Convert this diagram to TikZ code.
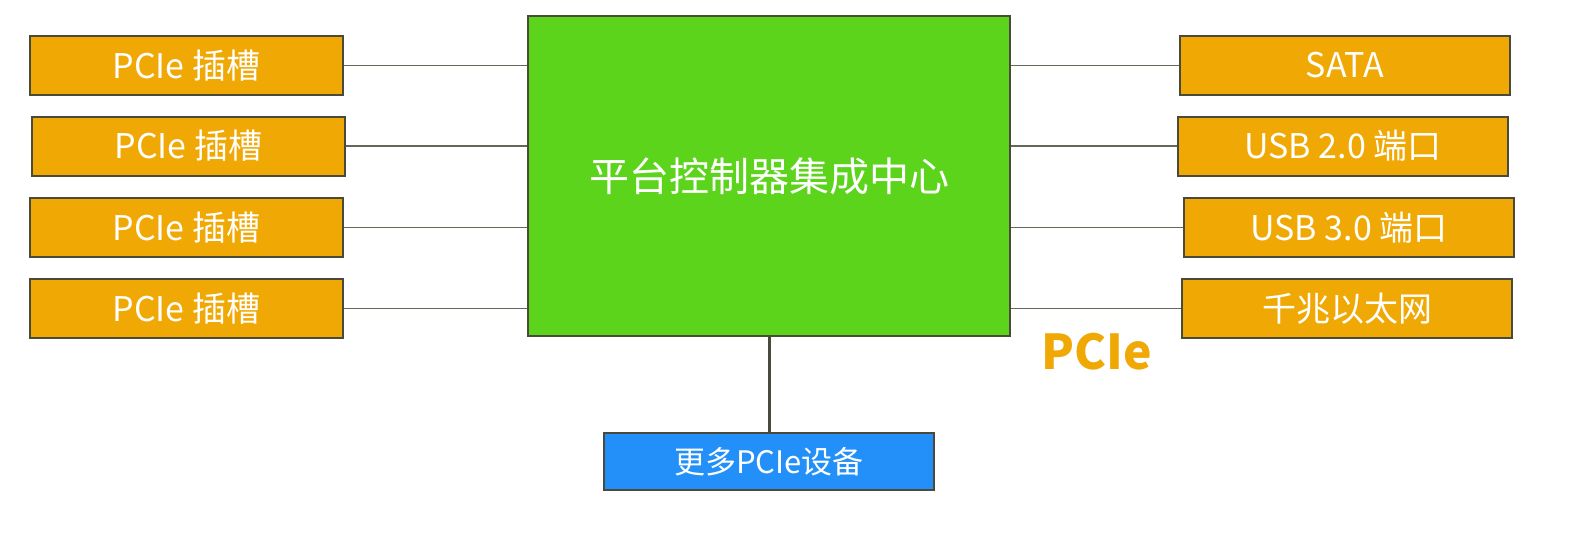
\documentclass[tikz,border=0pt]{standalone}
\usepackage{fontspec}
\setmainfont{Noto Sans CJK SC}
\usepackage{xcolor}
\usetikzlibrary{positioning}
\definecolor{slotorange}{HTML}{F0A804}
\definecolor{hubgreen}{HTML}{5CD41C}
\definecolor{devblue}{HTML}{2290F8}
\definecolor{edgegray}{HTML}{4A4A3A}

\begin{document}
\begin{tikzpicture}
                            [x=0.5pt, y=-0.5pt,
                             box/.style={draw=edgegray, line width=1pt, text=white, inner sep=0pt},
                             port/.style={box, fill=slotorange, minimum height=29.5pt, font=\fontsize{17}{20}\selectfont},
                             slot/.style={port, minimum width=156.5pt},
                             link/.style={draw=edgegray!85, line width=0.8pt}]

                            \useasboundingbox (0,0) rectangle (1590,532);

                            \node[box, fill=hubgreen, minimum width=241pt, minimum height=160pt,
                                  font=\fontsize{20}{24}\selectfont] (hub) at (769,176) {平台控制器集成中心};

                            % PCIe slots
                            \foreach \i/\x/\y in {1/186.5/65.5, 2/188.5/146, 3/186.5/227.5, 4/186.5/308.5} {
                                \node[slot] (slot\i) at (\x,\y) {PCIe 插槽};
                                \draw[link] (slot\i.east) -- (slot\i.east -| hub.west);
                            }

                            % right side ports
                            \node[port, minimum width=165pt] (sata) at (1345,65.5) {SATA};
                            \node[port, minimum width=165pt] (usbtwo) at (1343,146) {USB 2.0 端口};
                            \node[port, minimum width=165pt] (usbthree) at (1349,227.5) {USB 3.0 端口};
                            \node[port, minimum width=165pt] (gbe) at (1347,308.5) {千兆以太网};
                            \foreach \p in {sata, usbtwo, usbthree, gbe}
                                \draw[link] (hub.east |- \p.west) -- (\p.west);

                            \node[text=slotorange, inner sep=0pt, font=\bfseries\fontsize{24}{28}\selectfont] (pcie) at (1097,352) {PCIe};

                            \node[box, fill=devblue, minimum width=165pt, minimum height=28.5pt,
                                  font=\fontsize{15.5}{18}\selectfont] (more) at (769,461.5) {更多PCIe设备};
                            \draw[edgegray, line width=1.5pt] (hub.south) -- (more.north);
                        \end{tikzpicture}
\end{document}
